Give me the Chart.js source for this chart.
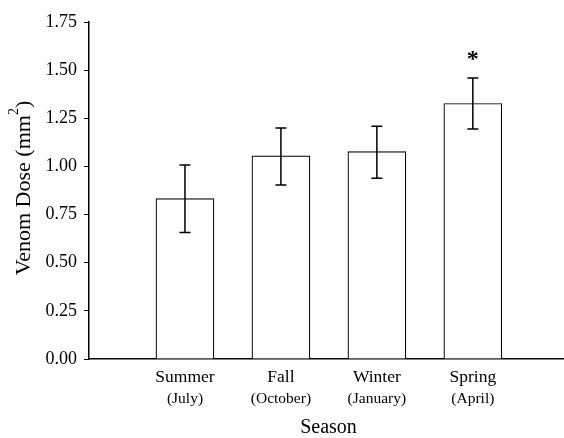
<!DOCTYPE html>
<html lang="en">
<head>
<meta charset="UTF-8">
<title>Venom Dose by Season</title>
<style>
body {margin:0; background:#fff;}
#wrap {width:564px; height:438px; position:relative;}
</style>
</head>
<body>
<div id="wrap"><canvas id="chart"></canvas></div>
<script src="https://cdn.jsdelivr.net/npm/chart.js"></script>
<script>
const seasons = ['Summer', 'Fall', 'Winter', 'Spring'];
const months = ['(July)', '(October)', '(January)', '(April)'];
const doses = [0.833, 1.055, 1.077, 1.327];
const errLow = [0.657, 0.904, 0.939, 1.194];
const errHigh = [1.008, 1.200, 1.208, 1.459];
const marks = ['', '', '', '*'];
const yTicks = [0, 0.25, 0.5, 0.75, 1.0, 1.25, 1.5, 1.75];

const serif = '"Liberation Serif", "Times New Roman", serif';

const extras = {
  id: 'extras',
  afterDatasetsDraw(chart) {
    const {ctx, scales: {x, y}, chartArea} = chart;
    ctx.save();
    // error bars
    ctx.strokeStyle = '#000';
    ctx.lineWidth = 1.5;
    seasons.forEach((s, i) => {
      const px = x.getPixelForValue(i + 1);
      const lo = y.getPixelForValue(errLow[i]);
      const hi = y.getPixelForValue(errHigh[i]);
      ctx.beginPath();
      ctx.moveTo(px, lo); ctx.lineTo(px, hi);
      ctx.moveTo(px - 5.5, lo); ctx.lineTo(px + 5.5, lo);
      ctx.moveTo(px - 5.5, hi); ctx.lineTo(px + 5.5, hi);
      ctx.stroke();
      if (marks[i]) {
        ctx.fillStyle = '#000';
        ctx.font = 'bold 24px ' + serif;
        ctx.textAlign = 'center';
        ctx.textBaseline = 'middle';
        ctx.fillText(marks[i], px, hi - 18);
      }
    });
    // category labels
    ctx.fillStyle = '#000';
    ctx.textAlign = 'center';
    ctx.textBaseline = 'middle';
    seasons.forEach((s, i) => {
      const px = x.getPixelForValue(i + 1);
      ctx.font = '17.5px ' + serif;
      ctx.fillText(s, px, chartArea.bottom + 18);
      ctx.font = '15.5px ' + serif;
      ctx.fillText(months[i], px, chartArea.bottom + 40);
    });
    // x title
    ctx.font = '20px ' + serif;
    ctx.fillText('Season', (chartArea.left + chartArea.right) / 2 + 2, chartArea.bottom + 69);
    // y title with superscript
    ctx.translate(24, 188);
    ctx.rotate(-Math.PI / 2);
    const main = 'Venom Dose (mm';
    ctx.font = '22px ' + serif;
    const w1 = ctx.measureText(main).width;
    const w3 = ctx.measureText(')').width;
    ctx.font = '14px ' + serif;
    const w2 = ctx.measureText('2').width;
    let sx = -(w1 + w2 + w3) / 2;
    ctx.textAlign = 'left';
    ctx.font = '22px ' + serif;
    ctx.fillText(main, sx, 0);
    ctx.font = '14px ' + serif;
    ctx.fillText('2', sx + w1, -10);
    ctx.font = '22px ' + serif;
    ctx.fillText(')', sx + w1 + w2, 0);
    ctx.restore();
  }
};

new Chart(document.getElementById('chart'), {
  type: 'bar',
  data: {
    datasets: [{
      data: seasons.map((s, i) => ({x: i + 1, y: doses[i]})),
      backgroundColor: '#fff',
      borderColor: '#000',
      borderWidth: 1.2,
      barThickness: 58
    }]
  },
  options: {
    responsive: true,
    maintainAspectRatio: false,
    animation: false,
    layout: {padding: {top: 22, right: 0, left: 0, bottom: 0}},
    plugins: {legend: {display: false}, tooltip: {enabled: false}},
    scales: {
      x: {
        type: 'linear',
        offset: false,
        min: 0,
        max: 4.95,
        ticks: {display: false},
        grid: {display: false},
        border: {display: true, color: '#000', width: 1.5},
        afterFit: s => { s.height = 79; }
      },
      y: {
        min: 0,
        max: 1.75,
        afterBuildTicks: s => { s.ticks = yTicks.map(v => ({value: v})); },
        ticks: {
          color: '#000',
          font: {family: serif, size: 18},
          padding: 7,
          callback: v => v.toFixed(2)
        },
        grid: {display: true, drawOnChartArea: false, drawTicks: true, tickLength: 5, color: '#000'},
        border: {display: true, color: '#000', width: 1.5},
        afterFit: s => { s.width = 89; }
      }
    }
  },
  plugins: [extras]
});
</script>
</body>
</html>
